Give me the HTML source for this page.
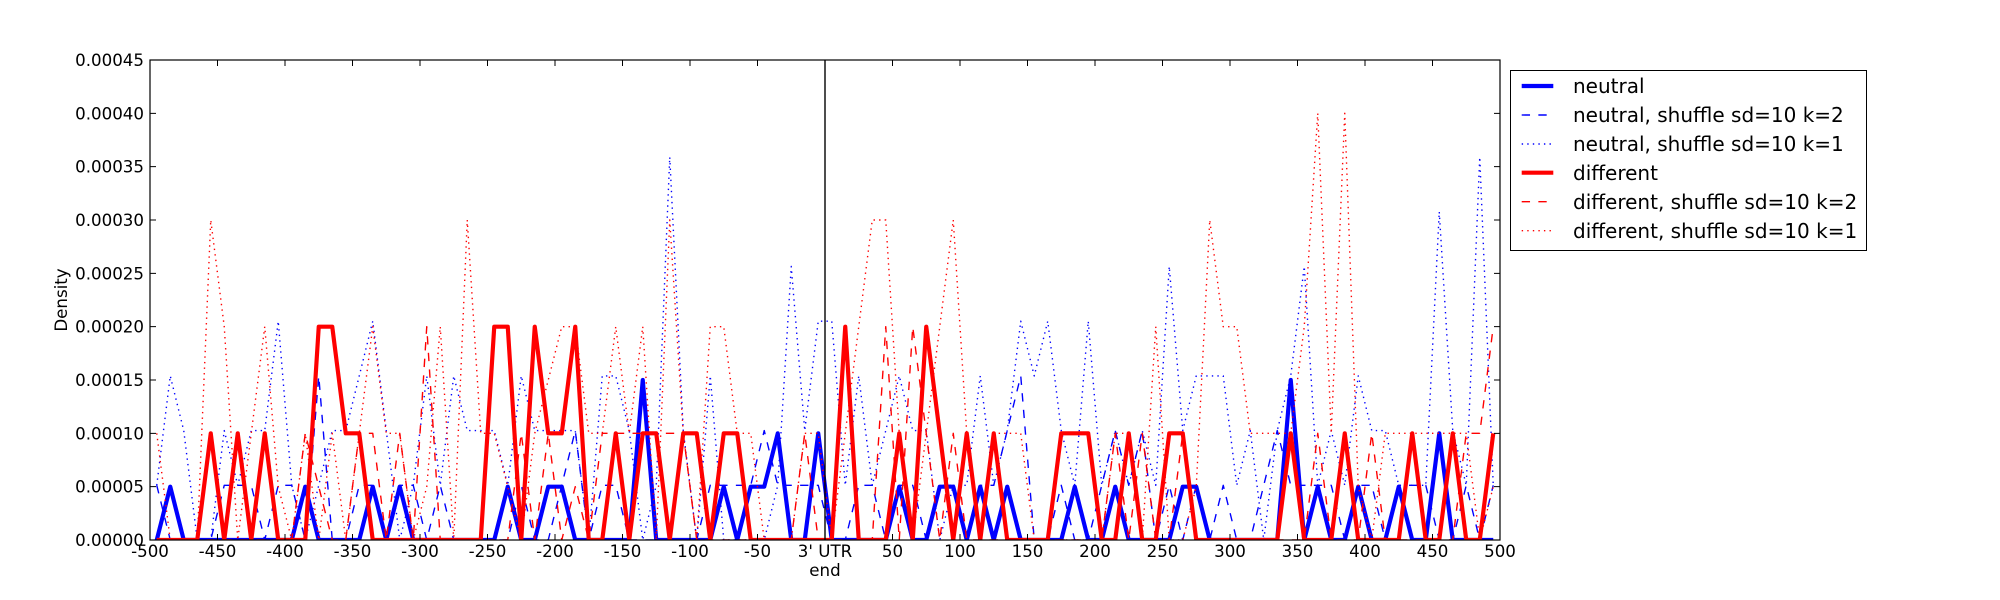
<!DOCTYPE html>
<html><head><meta charset="utf-8"><style>
html,body{margin:0;padding:0;background:#fff;width:2000px;height:600px;overflow:hidden}
svg{display:block}
text{font-family:"DejaVu Sans","Liberation Sans",sans-serif;fill:#000}
.t{font-size:16.67px}
.l{font-size:20px}
.n{fill:none;vector-effect:non-scaling-stroke;stroke-linejoin:round}
</style></head><body>
<svg width="2000" height="600" viewBox="0 0 2000 600" xmlns="http://www.w3.org/2000/svg">
<defs><clipPath id="c"><rect x="150" y="60" width="1350" height="480"/></clipPath></defs>
<rect x="0" y="0" width="2000" height="600" fill="#fff"/>
<g clip-path="url(#c)">
<!-- neutral thick -->
<g transform="translate(156.75,540) scale(13.5,-53.3333)">
<polyline class="n" stroke="#0000ff" stroke-width="4.17" points="0,0 1,1 2,0 3,0 4,0 5,0 6,0 7,0 8,0 9,0 10,0 11,1 12,0 13,0 14,0 15,0 16,1 17,0 18,1 19,0 20,0 21,0 22,0 23,0 24,0 25,0 26,1 27,0 28,0 29,1 30,1 31,0 32,0 33,0 34,0 35,0 36,3 37,0 38,0 39,0 40,0 41,0 42,1 43,0 44,1 45,1 46,2 47,0 48,0 49,2 50,0 51,0 52,0 53,0 54,0 55,1 56,0 57,0 58,1 59,1 60,0 61,1 62,0 63,1 64,0 65,0 66,0 67,0 68,1 69,0 70,0 71,1 72,0 73,0 74,0 75,0 76,1 77,1 78,0 79,0 80,0 81,0 82,0 83,0 84,3 85,0 86,1 87,0 88,0 89,1 90,0 91,0 92,1 93,0 94,0 95,2 96,0 97,0 98,0 99,0"/>
</g>
<g transform="translate(156.75,540) scale(13.5,-54.7)">
<!-- neutral k=2 dashed -->
<polyline class="n" stroke="#0000ff" stroke-width="1.39" stroke-dasharray="8.33 8.33" points="0,1 1,0 2,0 3,0 4,0 5,1 6,1 7,1 8,0 9,1 10,1 11,0 12,3 13,0 14,0 15,1 16,1 17,0 18,1 19,1 20,0 21,1 22,0 23,0 24,0 25,0 26,0 27,1 28,0 29,0 30,1 31,2 32,0 33,1 34,1 35,0 36,0 37,0 38,0 39,0 40,0 41,1 42,1 43,1 44,1 45,2 46,1 47,1 48,1 49,1 50,0 51,0 52,1 53,1 54,0 55,1 56,1 57,0 58,1 59,1 60,0 61,1 62,1 63,2 64,3 65,0 66,0 67,1 68,0 69,0 70,1 71,2 72,1 73,2 74,0 75,1 76,0 77,1 78,0 79,1 80,0 81,0 82,1 83,2 84,1 85,1 86,1 87,1 88,0 89,1 90,1 91,0 92,1 93,1 94,1 95,0 96,0 97,1 98,0 99,1"/>
<!-- neutral k=1 dotted -->
<polyline class="n" stroke="#0000ff" stroke-width="1.39" stroke-dasharray="1.39 4.17" points="0,1 1,3 2,2 3,0 4,0 5,2 6,1 7,2 8,2 9,4 10,1 11,0 12,1 13,2 14,2 15,3 16,4 17,2 18,0 19,1 20,3 21,1 22,3 23,2 24,2 25,2 26,1 27,3 28,2 29,2 30,2 31,2 32,0 33,3 34,3 35,2 36,0 37,1 38,7 39,2 40,0 41,3 42,0 43,0 44,0 45,0 46,1 47,5 48,2 49,4 50,4 51,1 52,3 53,1 54,2 55,3 56,2 57,2 58,0 59,1 60,1 61,3 62,1 63,2 64,4 65,3 66,4 67,2 68,1 69,4 70,1 71,2 72,1 73,2 74,1 75,5 76,2 77,3 78,3 79,3 80,1 81,2 82,0 83,2 84,3 85,5 86,1 87,2 88,1 89,3 90,2 91,2 92,1 93,1 94,1 95,6 96,2 97,1 98,7 99,1"/>
</g>
<g transform="translate(156.75,540) scale(13.5,-53.3333)">
<!-- different thick -->
<polyline class="n" stroke="#ff0000" stroke-width="4.17" points="0,0 1,0 2,0 3,0 4,2 5,0 6,2 7,0 8,2 9,0 10,0 11,0 12,4 13,4 14,2 15,2 16,0 17,0 18,0 19,0 20,0 21,0 22,0 23,0 24,0 25,4 26,4 27,0 28,4 29,2 30,2 31,4 32,0 33,0 34,2 35,0 36,2 37,2 38,0 39,2 40,2 41,0 42,2 43,2 44,0 45,0 46,0 47,0 48,0 49,0 50,0 51,4 52,0 53,0 54,0 55,2 56,0 57,4 58,2 59,0 60,2 61,0 62,2 63,0 64,0 65,0 66,0 67,2 68,2 69,2 70,0 71,0 72,2 73,0 74,0 75,2 76,2 77,0 78,0 79,0 80,0 81,0 82,0 83,0 84,2 85,0 86,0 87,0 88,2 89,0 90,0 91,0 92,0 93,2 94,0 95,0 96,2 97,0 98,0 99,2"/>
<!-- different k=2 dashed -->
<polyline class="n" stroke="#ff0000" stroke-width="1.39" stroke-dasharray="8.33 8.33" points="0,0 1,0 2,0 3,0 4,0 5,0 6,0 7,0 8,0 9,0 10,0 11,2 12,1 13,0 14,0 15,2 16,2 17,0 18,2 19,0 20,4 21,0 22,0 23,0 24,0 25,0 26,0 27,2 28,0 29,2 30,0 31,1 32,0 33,2 34,2 35,2 36,2 37,2 38,2 39,2 40,0 41,0 42,0 43,0 44,0 45,0 46,0 47,0 48,2 49,0 50,0 51,0 52,0 53,0 54,4 55,0 56,4 57,2 58,0 59,2 60,0 61,0 62,0 63,0 64,0 65,0 66,0 67,0 68,0 69,0 70,0 71,2 72,0 73,2 74,0 75,0 76,2 77,0 78,0 79,0 80,0 81,0 82,0 83,0 84,0 85,0 86,2 87,0 88,0 89,0 90,2 91,0 92,0 93,0 94,0 95,0 96,0 97,2 98,2 99,4"/>
<!-- different k=1 dotted -->
<polyline class="n" stroke="#ff0000" stroke-width="1.39" stroke-dasharray="1.39 4.17" points="0,2 1,0 2,0 3,0 4,6 5,4 6,0 7,2 8,4 9,1 10,0 11,2 12,0 13,2 14,0 15,2 16,4 17,2 18,2 19,0 20,1 21,4 22,0 23,6 24,2 25,2 26,1 27,0 28,2 29,3 30,4 31,4 32,2 33,2 34,4 35,2 36,4 37,0 38,6 39,2 40,0 41,4 42,4 43,2 44,2 45,0 46,0 47,0 48,2 49,2 50,0 51,2 52,4 53,6 54,6 55,2 56,0 57,2 58,4 59,6 60,2 61,0 62,2 63,2 64,2 65,0 66,0 67,0 68,0 69,0 70,0 71,2 72,2 73,0 74,4 75,0 76,0 77,1 78,6 79,4 80,4 81,2 82,2 83,2 84,2 85,4 86,8 87,2 88,8 89,1 90,0 91,2 92,2 93,2 94,2 95,2 96,2 97,2 98,0 99,1"/>
</g>
<line x1="825" y1="60" x2="825" y2="540" stroke="#000" stroke-width="1.39"/>
</g>
<!-- axes frame -->
<rect x="150" y="60" width="1350" height="480" fill="none" stroke="#000" stroke-width="1.2"/>
<!-- ticks -->
<g stroke="#000" stroke-width="1">
<path d="M150,540h6M150,486.67h6M150,433.33h6M150,380h6M150,326.67h6M150,273.33h6M150,220h6M150,166.67h6M150,113.33h6M150,60h6"/>
<path d="M1500,540h-6M1500,486.67h-6M1500,433.33h-6M1500,380h-6M1500,326.67h-6M1500,273.33h-6M1500,220h-6M1500,166.67h-6M1500,113.33h-6M1500,60h-6"/>
<path d="M150,540v-6M217.5,540v-6M285,540v-6M352.5,540v-6M420,540v-6M487.5,540v-6M555,540v-6M622.5,540v-6M690,540v-6M757.5,540v-6M825,540v-6M892.5,540v-6M960,540v-6M1027.5,540v-6M1095,540v-6M1162.5,540v-6M1230,540v-6M1297.5,540v-6M1365,540v-6M1432.5,540v-6M1500,540v-6"/>
<path d="M150,60v6M217.5,60v6M285,60v6M352.5,60v6M420,60v6M487.5,60v6M555,60v6M622.5,60v6M690,60v6M757.5,60v6M825,60v6M892.5,60v6M960,60v6M1027.5,60v6M1095,60v6M1162.5,60v6M1230,60v6M1297.5,60v6M1365,60v6M1432.5,60v6M1500,60v6"/>
</g>
<!-- y tick labels -->
<g class="t" text-anchor="end">
<text x="144" y="546">0.00000</text>
<text x="144" y="492.67">0.00005</text>
<text x="144" y="439.33">0.00010</text>
<text x="144" y="386">0.00015</text>
<text x="144" y="332.67">0.00020</text>
<text x="144" y="279.33">0.00025</text>
<text x="144" y="226">0.00030</text>
<text x="144" y="172.67">0.00035</text>
<text x="144" y="119.33">0.00040</text>
<text x="144" y="66">0.00045</text>
</g>
<!-- x tick labels -->
<g class="t" text-anchor="middle">
<text x="150" y="557">-500</text>
<text x="217.5" y="557">-450</text>
<text x="285" y="557">-400</text>
<text x="352.5" y="557">-350</text>
<text x="420" y="557">-300</text>
<text x="487.5" y="557">-250</text>
<text x="555" y="557">-200</text>
<text x="622.5" y="557">-150</text>
<text x="690" y="557">-100</text>
<text x="757.5" y="557">-50</text>
<text x="825" y="557">3' UTR</text>
<text x="825" y="576">end</text>
<text x="892.5" y="557">50</text>
<text x="960" y="557">100</text>
<text x="1027.5" y="557">150</text>
<text x="1095" y="557">200</text>
<text x="1162.5" y="557">250</text>
<text x="1230" y="557">300</text>
<text x="1297.5" y="557">350</text>
<text x="1365" y="557">400</text>
<text x="1432.5" y="557">450</text>
<text x="1500" y="557">500</text>
</g>
<text class="t" text-anchor="middle" transform="translate(67,300) rotate(-90)">Density</text>
<!-- legend -->
<rect x="1510.5" y="70.5" width="356" height="180" fill="#fff" stroke="#000" stroke-width="1"/>
<g fill="none">
<line x1="1521.7" y1="86" x2="1553.3" y2="86" stroke="#0000ff" stroke-width="4.17"/>
<line x1="1521.7" y1="115" x2="1553.3" y2="115" stroke="#0000ff" stroke-width="1.39" stroke-dasharray="8.33 8.33"/>
<line x1="1521.7" y1="144" x2="1553.3" y2="144" stroke="#0000ff" stroke-width="1.39" stroke-dasharray="1.39 4.17"/>
<line x1="1521.7" y1="172.7" x2="1553.3" y2="172.7" stroke="#ff0000" stroke-width="4.17"/>
<line x1="1521.7" y1="201.7" x2="1553.3" y2="201.7" stroke="#ff0000" stroke-width="1.39" stroke-dasharray="8.33 8.33"/>
<line x1="1521.7" y1="230.7" x2="1553.3" y2="230.7" stroke="#ff0000" stroke-width="1.39" stroke-dasharray="1.39 4.17"/>
</g>
<g class="l">
<text x="1573" y="93">neutral</text>
<text x="1573" y="122">neutral, shuffle sd=10 k=2</text>
<text x="1573" y="151">neutral, shuffle sd=10 k=1</text>
<text x="1573" y="180">different</text>
<text x="1573" y="209">different, shuffle sd=10 k=2</text>
<text x="1573" y="238">different, shuffle sd=10 k=1</text>
</g>
</svg>
</body></html>
